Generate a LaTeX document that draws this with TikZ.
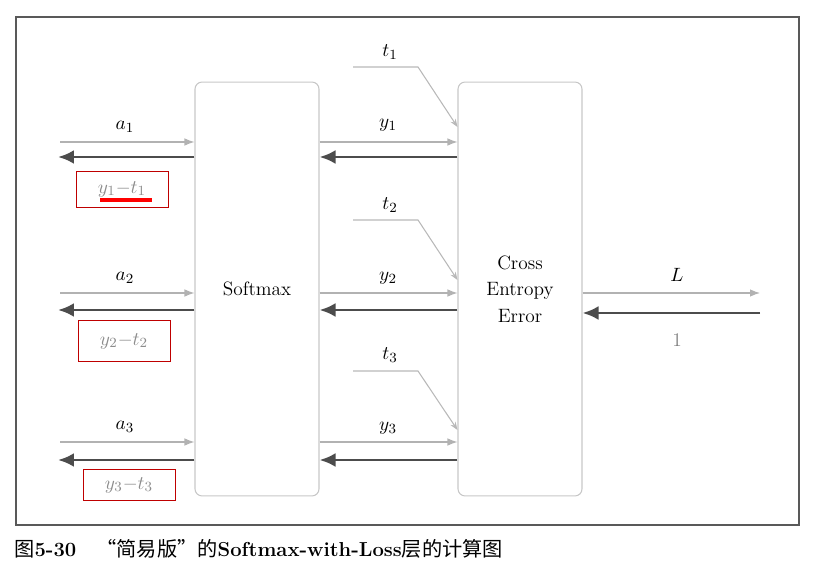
\documentclass[tikz,border=0pt]{standalone}
\usepackage{fontspec}
\newfontfamily\cjk{Noto Sans CJK SC}
\usetikzlibrary{arrows.meta,positioning,calc}

\begin{document}
\begin{tikzpicture}[
  x=0.02cm,
  y=-0.02cm,
  font=\fontsize{11}{14}\selectfont,
  >=Latex,
  layer/.style={
    draw=black!22,
    rounded corners=4pt,
    minimum width=2.48cm,
    minimum height=8.28cm,
    align=center,
    line width=0.6pt
  },
  grad/.style={
    draw=red!75!black,
    minimum width=1.84cm,
    minimum height=0.72cm,
    text=black!45,
    line width=0.5pt
  },
  fwd/.style={
    -{Latex[length=2mm]},
    draw=black!30,
    line width=0.6pt
  },
  bwd/.style={
    -{Latex[length=3.2mm,width=2.8mm]},
    draw=black!70,
    line width=1.7pt
  },
  tin/.style={
    -{Stealth[length=1.6mm]},
    draw=black!28,
    line width=0.6pt
  }
]
\useasboundingbox (0,0) rectangle (813,573);

%-----------------------------
% Frame and caption
%-----------------------------
\draw[black!65, line width=0.7pt] (16,17) rectangle (799,525);
\node[anchor=west, inner sep=0pt, font=\fontsize{11.5}{14}\selectfont\bfseries] (caption) at (14,549)
  {{\cjk\mdseries 图}5-30\quad{\cjk\mdseries “简易版”的}Softmax-with-Loss{\cjk\mdseries 层的计算图}};

%-----------------------------
% Layers
%-----------------------------
\node[layer] (soft)  at (257,289) {Softmax};
\node[layer] (cross) at (520,289) {Cross\\[1pt]Entropy\\[1pt]Error};

%-----------------------------
% Inputs a and gradients
%-----------------------------
\coordinate (a1in)  at (60,142);
\coordinate (a2in)  at (60,293);
\coordinate (a3in)  at (60,442);
\coordinate (a1out) at (58,157);
\coordinate (a2out) at (58,310);
\coordinate (a3out) at (58,460);

\draw[fwd] (a1in) -- (a1in -| soft.west);
\draw[fwd] (a2in) -- (a2in -| soft.west);
\draw[fwd] (a3in) -- (a3in -| soft.west);
\draw[bwd] (a1out -| soft.west) -- (a1out);
\draw[bwd] (a2out -| soft.west) -- (a2out);
\draw[bwd] (a3out -| soft.west) -- (a3out);

\node (a1) at (125,127) {$a_1$};
\node (a2) at (125,278) {$a_2$};
\node (a3) at (125,427) {$a_3$};

\node[grad] (g1) at (122,189) {$y_1{-}t_1$};
\node[grad, minimum height=0.82cm] (g2) at (124,341) {$y_2{-}t_2$};
\node[grad, minimum height=0.62cm] (g3) at (129,485) {$y_3{-}t_3$};
\draw[red, line width=1.8pt] (100,200) -- (152,200);

%-----------------------------
% Outputs y between the layers
%-----------------------------
\coordinate (y1) at (0,142);
\coordinate (y2) at (0,293);
\coordinate (y3) at (0,442);
\coordinate (d1) at (0,157);
\coordinate (d2) at (0,310);
\coordinate (d3) at (0,460);

\draw[fwd] (y1 -| soft.east) -- (y1 -| cross.west);
\draw[fwd] (y2 -| soft.east) -- (y2 -| cross.west);
\draw[fwd] (y3 -| soft.east) -- (y3 -| cross.west);
\draw[bwd] (d1 -| cross.west) -- (d1 -| soft.east);
\draw[bwd] (d2 -| cross.west) -- (d2 -| soft.east);
\draw[bwd] (d3 -| cross.west) -- (d3 -| soft.east);

\node (ylab1) at (388,125) {$y_1$};
\node (ylab2) at (388,278) {$y_2$};
\node (ylab3) at (388,428) {$y_3$};

%-----------------------------
% Labels t into the loss layer
%-----------------------------
\coordinate (t1in) at (353,67);
\coordinate (t2in) at (353,220);
\coordinate (t3in) at (353,371);
\coordinate (t1bend) at (418,67);
\coordinate (t2bend) at (418,220);
\coordinate (t3bend) at (418,371);
\coordinate (t1end) at (0,127);
\coordinate (t2end) at (0,280);
\coordinate (t3end) at (0,430);

\draw[tin] (t1in) -- (t1bend) -- (t1end -| cross.west);
\draw[tin] (t2in) -- (t2bend) -- (t2end -| cross.west);
\draw[tin] (t3in) -- (t3bend) -- (t3end -| cross.west);

\node (t1) at (390,52)  {$t_1$};
\node (t2) at (390,205) {$t_2$};
\node (t3) at (390,355) {$t_3$};

%-----------------------------
% Loss output
%-----------------------------
\coordinate (Lend)   at (760,293);
\coordinate (Lstart) at (760,313);

\draw[fwd] (Lend -| cross.east) -- (Lend);
\draw[bwd] (Lstart) -- (Lstart -| cross.east);

\node (L)   at (677,275) {$L$};
\node[text=black!50] (one) at (677,340) {1};

\end{tikzpicture}
\end{document}
